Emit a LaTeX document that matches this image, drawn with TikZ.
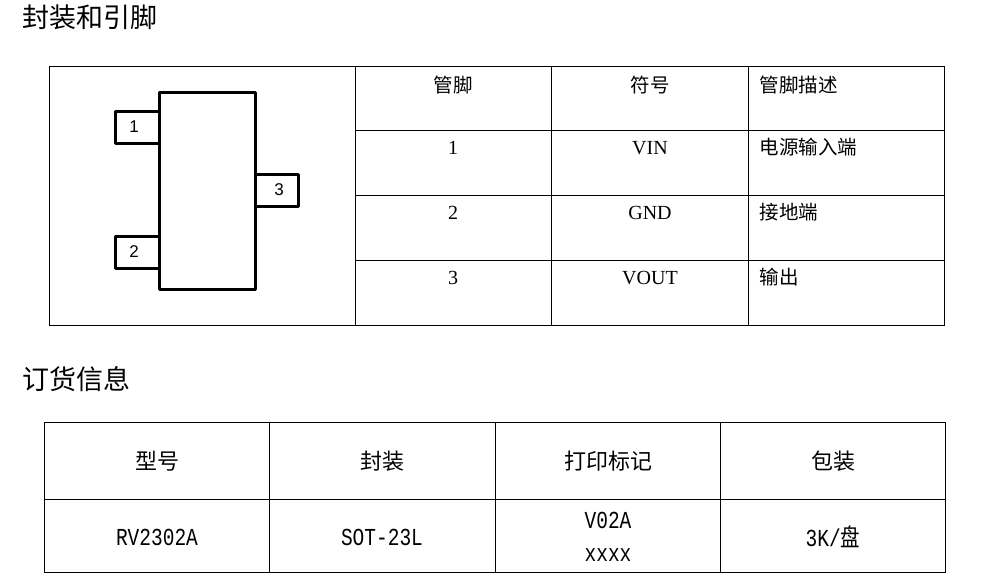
\documentclass[tikz,border=0pt]{standalone}
\usepackage{fontspec}
\setmainfont{Liberation Serif}
\setmonofont{Liberation Mono}
\setsansfont{Liberation Sans}
\newfontfamily\cjk{Noto Sans CJK SC}

\begin{document}
\begin{tikzpicture}[x=1pt,y=-1pt,
    grid/.style={line width=1pt},
    pinline/.style={line width=3pt,line join=round},
    heading/.style={anchor=west,font=\cjk\fontsize{27}{27}\selectfont},
    pincell/.style={font=\fontsize{20}{20}\selectfont},
    pincn/.style={font=\cjk\fontsize{19.5}{19.5}\selectfont},
    desc/.style={anchor=west,font=\cjk\fontsize{19.5}{19.5}\selectfont},
    ordcn/.style={font=\cjk\fontsize{22}{22}\selectfont},
    ordtt/.style={font=\ttfamily\fontsize{19.5}{19.5}\selectfont,yscale=1.25},
    pinnum/.style={font=\sffamily\fontsize{17}{17}\selectfont}]
    \useasboundingbox (0,0) rectangle (983,581);

    \node[heading] (title1) at (19,17) {封装和引脚};
    \node[heading] (title2) at (19,379) {订货信息};

    \draw[grid] (49,66) rectangle (944,325);
    \foreach \x in {355,551,748}
        \draw[grid] (\x,66) -- (\x,325);
    \foreach \y in {130,195,260}
        \draw[grid] (355,\y) -- (944,\y);

    \draw[pinline] (159,92) rectangle (255,289);
    \draw[pinline] (159,111) -- (115,111) -- (115,143) -- (159,143);
    \draw[pinline] (159,236) -- (115,236) -- (115,268) -- (159,268);
    \draw[pinline] (255,174) -- (298,174) -- (298,206) -- (255,206);
    \node[pinnum] (p1) at (134,127) {1};
    \node[pinnum] (p2) at (134,252) {2};
    \node[pinnum] (p3) at (279,190) {3};

    \node[pincn] (hpin) at (453,85) {管脚};
    \node[pincn] (hsym) at (650,85) {符号};
    \node[desc] (hdesc) at (756,85) {管脚描述};
    \node[pincell] (n1) at (453,148) {1};
    \node[pincell] (s1) at (650,148) {VIN};
    \node[desc] (d1) at (756,147) {电源输入端};
    \node[pincell] (n2) at (453,213) {2};
    \node[pincell] (s2) at (650,213) {GND};
    \node[desc] (d2) at (756,212) {接地端};
    \node[pincell] (n3) at (453,278) {3};
    \node[pincell] (s3) at (650,278) {VOUT};
    \node[desc] (d3) at (756,277) {输出};

    \draw[grid] (44,422) rectangle (945,572);
    \draw[grid] (44,499) -- (945,499);
    \foreach \x in {269,495,720}
        \draw[grid] (\x,422) -- (\x,572);

    \node[ordcn] (hmodel) at (157,461) {型号};
    \node[ordcn] (hpkg) at (382,461) {封装};
    \node[ordcn] (hmark) at (608,461) {打印标记};
    \node[ordcn] (hpack) at (833,461) {包装};
    \node[ordtt] (model) at (157,537) {RV2302A};
    \node[ordtt] (pkg) at (382,537) {SOT-23L};
    \node[ordtt] (mark1) at (608,520) {V02A};
    \node[ordtt] (mark2) at (608,555) {xxxx};
    \node[ordtt] (pack) at (833,537) {3K/{\cjk 盘}};
\end{tikzpicture}
\end{document}
